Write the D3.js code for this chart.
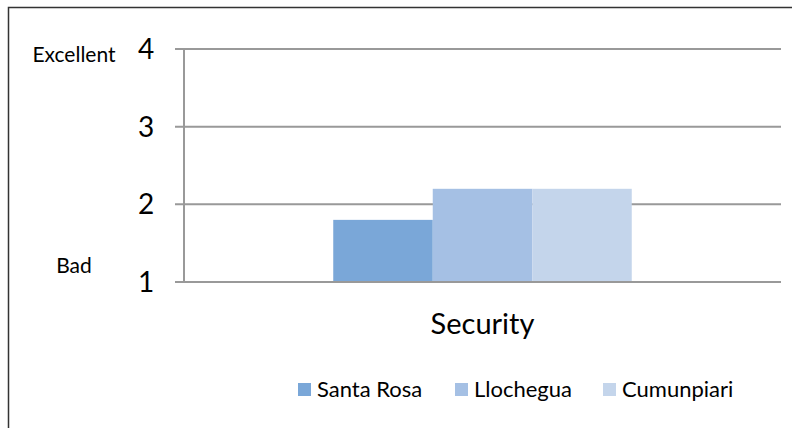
<!DOCTYPE html>
<html><head><meta charset="utf-8">
<script src="https://cdn.jsdelivr.net/npm/d3@7"></script>
<style>body{margin:0;background:#fff}svg{display:block}text{font-family:Lato,"Open Sans",sans-serif;fill:#000}</style>
</head><body><svg id="c" width="792" height="428"></svg>
<script>
const categories = ["Security"];
const seriesNames = ["Santa Rosa", "Llochegua", "Cumunpiari"];
const seriesValues = [[1.8], [2.2], [2.2]];
const colors = ["#7aa7d8", "#a5c0e4", "#c4d5eb"];
const yTicks = [1, 2, 3, 4];
const sideLabels = [{v: 4, t: "Excellent"}, {v: 1, t: "Bad"}];

const svg = d3.select("#c");
const m = {left: 184, right: 781, top: 49, bottom: 282};
// frame
svg.append("path").attr("d", "M8.5,428 V7.5 H792").attr("fill", "none").attr("stroke", "#333").attr("stroke-width", 1.5);

const y = d3.scaleLinear().domain([1, 4]).range([m.bottom, m.top]);
const x0 = d3.scaleBand().domain(categories).range([m.left, m.right]).paddingInner(0).paddingOuter(0.5);
const x1 = d3.scaleBand().domain(seriesNames).range([0, x0.bandwidth()]);

// gridlines
svg.append("g").selectAll("line").data(yTicks).join("line")
  .attr("x1", m.left - 9).attr("x2", m.right)
  .attr("y1", d => y(d)).attr("y2", d => y(d))
  .attr("stroke", "#999").attr("stroke-width", 2);

// bars
const g = svg.append("g");
categories.forEach((c, ci) => {
  seriesNames.forEach((s, si) => {
    const v = seriesValues[si][ci];
    g.append("rect")
      .attr("x", x0(c) + x1(s)).attr("width", x1.bandwidth())
      .attr("y", y(v)).attr("height", y(1) - y(v))
      .attr("fill", colors[si]);
  });
});

// baseline redraw + y-axis line
svg.append("line").attr("x1", m.left - 9).attr("x2", m.right).attr("y1", y(1)).attr("y2", y(1)).attr("stroke", "#999").attr("stroke-width", 2);
svg.append("line").attr("x1", m.left).attr("x2", m.left).attr("y1", y(4)).attr("y2", y(1)).attr("stroke", "#999").attr("stroke-width", 2);

// tick labels
svg.append("g").selectAll("text").data(yTicks).join("text")
  .attr("x", 146).attr("y", d => y(d) + 10).attr("text-anchor", "middle")
  .attr("font-size", 28).text(d => d);

svg.append("g").selectAll("text").data(sideLabels).join("text")
  .attr("x", 74).attr("y", d => d.v === 4 ? y(d.v) + 13 : y(d.v) - 9)
  .attr("text-anchor", "middle").attr("font-size", 21).text(d => d.t);

// category label
svg.append("g").selectAll("text").data(categories).join("text")
  .attr("x", d => x0(d) + x0.bandwidth() / 2).attr("y", 334).attr("text-anchor", "middle")
  .attr("font-size", 29).text(d => d);

// legend
const legX = [298, 455, 603];
const lg = svg.append("g");
seriesNames.forEach((s, i) => {
  lg.append("rect").attr("x", legX[i]).attr("y", 383).attr("width", 13).attr("height", 13).attr("fill", colors[i]);
  lg.append("text").attr("x", legX[i] + 19).attr("y", 397).attr("font-size", 22).text(s);
});
</script></body></html>
